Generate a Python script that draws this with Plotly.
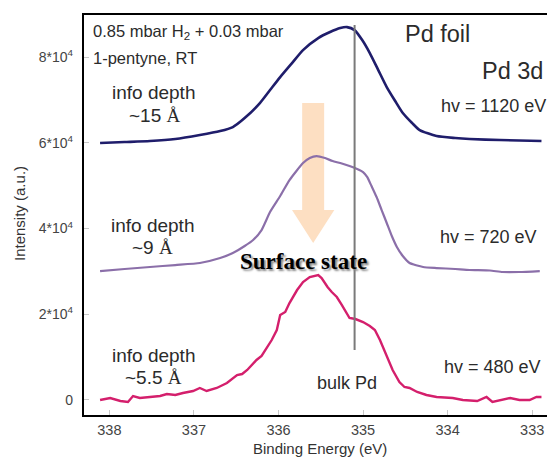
import plotly.graph_objects as go

# ---- data (binding energy in eV, intensity in counts) ----
energy_1120 = [338.11, 337.82, 337.52, 337.22, 336.93, 336.69, 336.54, 336.40, 336.22, 336.10,
               335.98, 335.84, 335.71, 335.53, 335.39, 335.27, 335.19, 335.10, 335.01, 334.92,
               334.82, 334.72, 334.62, 334.53, 334.42, 334.33, 334.13, 333.91, 333.74, 333.38, 332.89]
intensity_1120 = [59930, 60160, 60400, 60870, 61800, 62730, 63660, 65760, 69260, 72290,
                  75320, 78590, 81620, 84420, 85820, 86750, 86980, 86280, 83950, 80920,
                  76960, 72990, 69730, 66930, 64600, 62960, 61570, 61100, 60870, 60630, 60400]

energy_720 = [338.11, 337.82, 337.52, 337.22, 336.93, 336.69, 336.54, 336.40, 336.30, 336.20,
              336.10, 335.98, 335.87, 335.71, 335.63, 335.55, 335.45, 335.36, 335.27, 335.16,
              335.07, 335.00, 334.95, 334.90, 334.84, 334.78, 334.72, 334.66, 334.60, 334.53,
              334.45, 334.29, 334.13, 333.91, 333.74, 333.50, 333.35, 333.15, 332.91]
intensity_720 = [30080, 30550, 31020, 31480, 31950, 33110, 34280, 35910, 37310, 39640,
                 43840, 47570, 51300, 55270, 56440, 56900, 56440, 55730, 55270, 54570,
                 53870, 53170, 52000, 49900, 47340, 44310, 41280, 38240, 35680, 33580,
                 31950, 31020, 30780, 30550, 30320, 30200, 29850, 29850, 30080]

energy_480 = [338.11, 337.99, 337.87, 337.78, 337.72, 337.64, 337.52, 337.40, 337.32, 337.22,
              337.13, 337.05, 337.01, 336.93, 336.85, 336.73, 336.61, 336.49, 336.43, 336.37,
              336.26, 336.20, 336.14, 336.08, 336.02, 335.98, 335.92, 335.87, 335.78, 335.71,
              335.63, 335.53, 335.49, 335.42, 335.37, 335.31, 335.25, 335.19, 335.16, 335.09,
              335.00, 334.92, 334.86, 334.80, 334.72, 334.65, 334.57, 334.51, 334.45, 334.36,
              334.25, 334.13, 333.94, 333.82, 333.65, 333.54, 333.47, 333.26, 333.15, 333.03,
              332.95, 332.89]
intensity_480 = [0, 470, -230, -470, 930, 470, 700, 930, 1400, 1170,
                 1630, 1870, 2100, 2800, 2100, 2800, 3960, 5830, 6060, 7000,
                 9330, 10260, 12130, 13990, 16320, 19820, 20520, 22620, 25650, 27520,
                 28680, 29150, 28450, 26350, 25190, 24020, 22150, 20290, 19120, 18890,
                 18190, 17260, 16320, 13990, 10030, 7000, 4200, 3030, 2800, 1870,
                 1170, 700, 470, 0, -230, 700, -470, 470, 0, 0,
                 700, 700]

x_ticks = [338, 337, 336, 335, 334, 333]
y_ticks = [0, 20000, 40000, 60000, 80000]
y_ticktext = ["0", "2*10<sup>4</sup>", "4*10<sup>4</sup>", "6*10<sup>4</sup>", "8*10<sup>4</sup>"]

bulk_pd_energy = 335.10
bulk_line_span = [11660, 87460]

# arrow (data coordinates)
arrow_shaft_x = [335.72, 335.46]
arrow_head_x = [335.84, 335.34]
arrow_tip_x = 335.59
arrow_top_y = 69260
arrow_shaft_bottom_y = 44310
arrow_tip_y = 36610

SANS = "Liberation Sans, Arial, sans-serif"
SERIF = "Liberation Serif, Times New Roman, serif"
TXT = "#2b2b2b"

fig = go.Figure()

arrow_path = (f"M {arrow_shaft_x[0]},{arrow_top_y} L {arrow_shaft_x[1]},{arrow_top_y} "
              f"L {arrow_shaft_x[1]},{arrow_shaft_bottom_y} L {arrow_head_x[1]},{arrow_shaft_bottom_y} "
              f"L {arrow_tip_x},{arrow_tip_y} L {arrow_head_x[0]},{arrow_shaft_bottom_y} "
              f"L {arrow_shaft_x[0]},{arrow_shaft_bottom_y} Z")
fig.add_shape(type="path", path=arrow_path, xref="x", yref="y",
              fillcolor="rgb(253,223,194)", line=dict(width=0), layer="below")

fig.add_shape(type="line", xref="x", yref="y",
              x0=bulk_pd_energy, x1=bulk_pd_energy, y0=bulk_line_span[0], y1=bulk_line_span[1],
              line=dict(color="#7a7a7a", width=2))

fig.add_trace(go.Scatter(x=energy_1120, y=intensity_1120, mode="lines",
                         line=dict(color="#1f1d6b", width=2.6, shape="spline", smoothing=0.6)))
fig.add_trace(go.Scatter(x=energy_720, y=intensity_720, mode="lines",
                         line=dict(color="#8b6fa9", width=2.2, shape="spline", smoothing=0.5)))
fig.add_trace(go.Scatter(x=energy_480, y=intensity_480, mode="lines",
                         line=dict(color="#d41f6c", width=2.4)))

def ann(text, x, y, size, xanchor="center", family=SANS, color=TXT, textangle=0, **kw):
    fig.add_annotation(text=text, x=x, y=y, xref="paper", yref="paper",
                       xanchor=xanchor, yanchor="middle", showarrow=False, textangle=textangle,
                       font=dict(family=family, size=size, color=color, **kw))

# paper coords: plot spans x 84..555 px, y 15..415 px of the page
def px(xp):
    return (xp - 84) / 471.0

def py(yp):
    return (415 - yp) / 400.0

ann("0.85 mbar H<sub>2</sub> + 0.03 mbar", px(91), py(32), 16.5, xanchor="left")
ann("1-pentyne, RT", px(91), py(58), 16.5, xanchor="left")
ann("Pd foil", px(437), py(34), 23.5)
ann("Pd 3d", px(512), py(71), 23.5)
ann("hv = 1120 eV", px(548), py(106), 18, xanchor="right")
ann("hv = 720 eV", px(539), py(237), 18, xanchor="right")
ann("hv = 480 eV", px(543), py(367), 18, xanchor="right")
ann("bulk Pd", px(347), py(383), 18)

aring = "<span style='font-family:Liberation Serif'>Å</span>"
ann("info depth", px(153), py(92), 19)
ann("~15 " + aring, px(155), py(115), 19)
ann("info depth", px(152), py(225), 19)
ann("~9 " + aring, px(152), py(247), 19)
ann("info depth", px(153), py(355), 19)
ann("~5.5 " + aring, px(153), py(377), 19)

ann("<b>Surface state</b>", px(303), py(262), 23, family=SERIF, color="#000000",
    shadow="2px 2px 2px #8a8a8a")

# axis titles
ann("Binding Energy (eV)", px(320), py(448), 15, color="#333333")
ann("Intensity (a.u.)", px(19), py(214), 15, color="#333333", textangle=-90)

# the page body adds an 8 px offset, so the figure is 8 px smaller than the window
fig.update_layout(
    width=547, height=449,
    margin=dict(l=76, r=0, t=7, b=42),
    plot_bgcolor="white", paper_bgcolor="white",
    showlegend=False,
    font=dict(family=SANS, color="#444444"),
)
fig.update_xaxes(
    range=[338.30, 332.73], tickvals=x_ticks, ticktext=[str(v) for v in x_ticks],
    showline=True, linecolor="black", linewidth=2.3, mirror=True,
    ticks="inside", ticklen=5, tickcolor="#c8c8c8", tickfont=dict(size=14.5, color="#444444"),
    ticklabelstandoff=0,
    showgrid=False, zeroline=False,
)
fig.update_yaxes(
    range=[-3500, 89800], tickvals=y_ticks, ticktext=y_ticktext,
    showline=True, linecolor="black", linewidth=2.3,
    ticks="inside", ticklen=5, tickcolor="#c8c8c8", tickfont=dict(size=14, color="#444444"),
    ticklabelstandoff=6,
    showgrid=False, zeroline=False,
)

fig.write_html("out.html")
